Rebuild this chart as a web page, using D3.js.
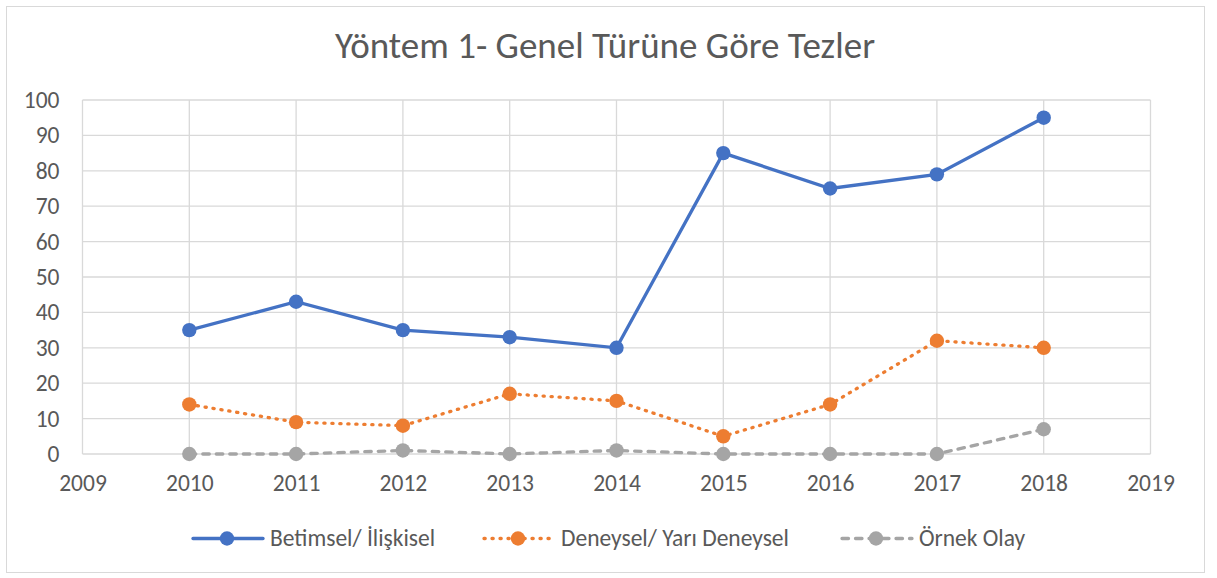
<!DOCTYPE html>
<html>
<head>
<meta charset="utf-8">
<script src="https://cdn.jsdelivr.net/npm/d3@7"></script>
<style>
  body { margin: 0; background: #fff; }
  svg text { font-family: Carlito, Calibri, "Open Sans", sans-serif; fill: #595959; }
  .grid line { stroke: #d9d9d9; stroke-width: 1.3; }
</style>
</head>
<body>
<div id="chart"></div>
<script>
const width = 1217;
const height = 578;

const years = [2010, 2011, 2012, 2013, 2014, 2015, 2016, 2017, 2018];
const betimsel = [35, 43, 35, 33, 30, 85, 75, 79, 95];
const deneysel = [14, 9, 8, 17, 15, 5, 14, 32, 30];
const ornekOlay = [0, 0, 1, 0, 1, 0, 0, 0, 7];
const seriesNames = ['Betimsel/ İlişkisel', 'Deneysel/ Yarı Deneysel', 'Örnek Olay'];
const yTicks = d3.range(0, 101, 10);
const xTicks = d3.range(2009, 2020);

const colors = ['#4472c4', '#ed7d31', '#a5a5a5'];
const dashes = [null, '1.2 6.8', '6.5 7'];

const plot = {left: 82.5, right: 1150.5, top: 100, bottom: 454};
const tickFont = 23.5;

const x = d3.scaleLinear().domain([2009, 2019]).range([plot.left, plot.right]);
const y = d3.scaleLinear().domain([0, 100]).range([plot.bottom, plot.top]);

const svg = d3.select('#chart').append('svg')
  .attr('width', width).attr('height', height);

svg.append('rect')
  .attr('x', 6.5).attr('y', 6.5).attr('width', 1198).attr('height', 566)
  .attr('fill', '#fff').attr('stroke', '#d9d9d9').attr('stroke-width', 1);

svg.append('text')
  .attr('x', 605).attr('y', 58)
  .attr('text-anchor', 'middle')
  .style('font-size', '37px')
  .text('Yöntem 1- Genel Türüne Göre Tezler');

// gridlines
const grid = svg.append('g').attr('class', 'grid');
grid.selectAll('line.h').data(yTicks).enter().append('line')
  .attr('class', 'h')
  .attr('x1', plot.left).attr('x2', plot.right)
  .attr('y1', d => y(d)).attr('y2', d => y(d));
grid.selectAll('line.v').data(xTicks).enter().append('line')
  .attr('class', 'v')
  .attr('x1', d => x(d)).attr('x2', d => x(d))
  .attr('y1', plot.top).attr('y2', plot.bottom);

// axes
const yAxis = svg.append('g')
  .attr('transform', translate(plot.left, 0))
  .call(d3.axisLeft(y).tickValues(yTicks).tickSize(0).tickPadding(23));
const xAxis = svg.append('g')
  .attr('transform', translate(0, plot.bottom))
  .call(d3.axisBottom(x).tickValues(xTicks).tickFormat(d3.format('d')).tickSize(0).tickPadding(20.8));
[yAxis, xAxis].forEach(a => {
  a.select('.domain').remove();
  a.selectAll('text').style('font-size', tickFont + 'px').attr('fill', '#595959');
});

const allSeries = [betimsel, deneysel, ornekOlay];
const line = d3.line().x((d, i) => x(years[i])).y(d => y(d));

allSeries.forEach((vals, s) => {
  const g = svg.append('g');
  g.append('path')
    .datum(vals)
    .attr('d', line)
    .attr('fill', 'none')
    .attr('stroke', colors[s])
    .attr('stroke-width', 3.3)
    .attr('stroke-linecap', 'round')
    .attr('stroke-dasharray', dashes[s]);
  g.selectAll('circle').data(vals).enter().append('circle')
    .attr('cx', (d, i) => x(years[i]))
    .attr('cy', d => y(d))
    .attr('r', 7.2)
    .attr('fill', colors[s]);
});

// legend
const legendX = [193, 484, 842];
const legendY = 538.5;
const legend = svg.append('g');
seriesNames.forEach((name, s) => {
  const lx = legendX[s];
  legend.append('line')
    .attr('x1', lx).attr('x2', lx + 70)
    .attr('y1', legendY).attr('y2', legendY)
    .attr('stroke', colors[s])
    .attr('stroke-width', 3.3)
    .attr('stroke-linecap', 'round')
    .attr('stroke-dasharray', dashes[s]);
  legend.append('circle')
    .attr('cx', lx + 34).attr('cy', legendY).attr('r', 7.2)
    .attr('fill', colors[s]);
  legend.append('text')
    .attr('x', lx + 77).attr('y', legendY + 7.3)
    .style('font-size', tickFont + 'px')
    .text(name);
});

function translate(a, b) {
  return 'translate(' + a + ',' + b + ')';
}
</script>
</body>
</html>
